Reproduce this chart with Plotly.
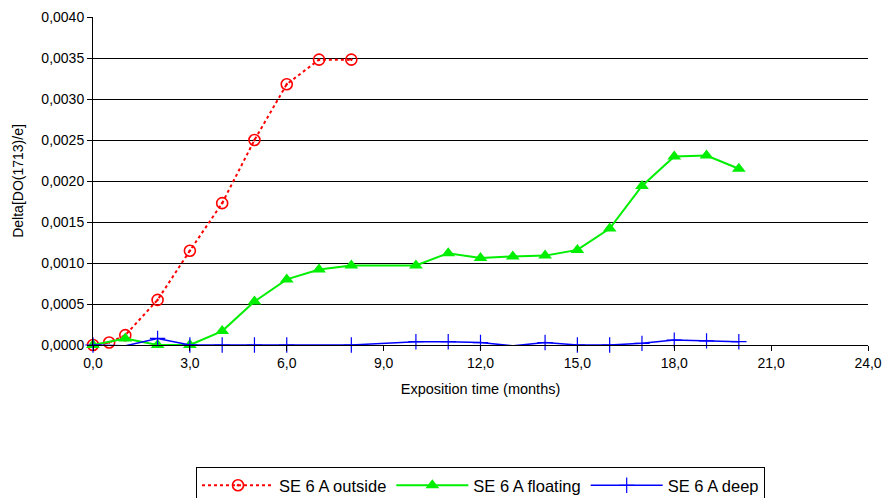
import plotly.graph_objects as go

x_outside = [0, 0.5, 1, 2, 3, 4, 5, 6, 7, 8]
y_outside = [0.0, 0.00003, 0.00012, 0.00055, 0.00115, 0.00173, 0.00250, 0.00318, 0.00348, 0.00348]

x_floating = [0, 1, 2, 3, 4, 5, 6, 7, 8, 10, 11, 12, 13, 14, 15, 16, 17, 18, 19, 20]
y_floating = [0.0, 0.00008, 0.0, 0.0, 0.00017, 0.00053, 0.00080, 0.00092, 0.00097, 0.00097,
              0.00112, 0.00106, 0.00108, 0.00109, 0.00116, 0.00142, 0.00194, 0.00230, 0.00231, 0.00215]

x_deep = [0, 1, 2, 3, 4, 5, 6, 8, 10, 11, 12, 13, 14, 15, 16, 17, 18, 19, 20]
y_deep = [0.0, -0.00001, 0.00008, 0.0, 0.0, 0.0, 0.0, 0.0, 0.00004, 0.00004, 0.00003,
          -0.00001, 0.00003, 0.0, 0.0, 0.00002, 0.00006, 0.00005, 0.00004]

names = ["SE 6 A outside", "SE 6 A floating", "SE 6 A deep"]

fig = go.Figure()
fig.add_trace(go.Scatter(x=x_outside, y=y_outside, name=names[0], mode="lines+markers",
                         line=dict(color="#FF0000", width=2, dash="dot"),
                         marker=dict(symbol="circle-open-dot", size=11, color="#FF0000",
                                     line=dict(width=1.6, color="#FF0000")),
                         cliponaxis=False))
fig.add_trace(go.Scatter(x=x_floating, y=y_floating, name=names[1], mode="lines+markers",
                         line=dict(color="#00EE00", width=2),
                         marker=dict(symbol="triangle-up", size=12, color="#00EE00"),
                         cliponaxis=False))
fig.add_trace(go.Scatter(x=x_deep, y=y_deep, name=names[2], mode="lines+markers",
                         line=dict(color="#0000FF", width=1.5),
                         marker=dict(symbol="cross-thin", size=11, color="#0000FF",
                                     line=dict(width=1.2, color="#0000FF")),
                         cliponaxis=False))

fig.update_layout(
    width=885, height=498,
    margin=dict(l=93, r=17, t=17, b=153, autoexpand=False),
    paper_bgcolor="white", plot_bgcolor="white",
    separators=",.",
    font=dict(family="Liberation Sans, Arial, sans-serif", size=14, color="#000000"),
    showlegend=True,
    legend=dict(orientation="h", x=0.5, xanchor="center", y=-0.372, yanchor="top",
                bordercolor="#000000", borderwidth=1, bgcolor="white",
                font=dict(size=16.5), itemwidth=72, tracegroupgap=0),
    xaxis=dict(range=[0, 24], tickvals=[0, 3, 6, 9, 12, 15, 18, 21, 24], tickformat=".1f",
               showgrid=False, zeroline=False, showline=True, linecolor="#000000", linewidth=1,
               ticks="outside", ticklen=5, tickcolor="#000000",
               title=dict(text="Exposition time (months)", font=dict(size=14.5), standoff=14)),
    yaxis=dict(range=[0, 0.004], tickvals=[0, 0.0005, 0.001, 0.0015, 0.002, 0.0025, 0.003, 0.0035, 0.004],
               tickformat=".4f", showgrid=True, gridcolor="#000000", gridwidth=1,
               zeroline=False, showline=True, linecolor="#000000", linewidth=1,
               ticks="outside", ticklen=5, tickcolor="#000000",
               title=dict(text="Delta[DO(1713)/e]", font=dict(size=14), standoff=14)),
)

fig.write_html("out.html")
